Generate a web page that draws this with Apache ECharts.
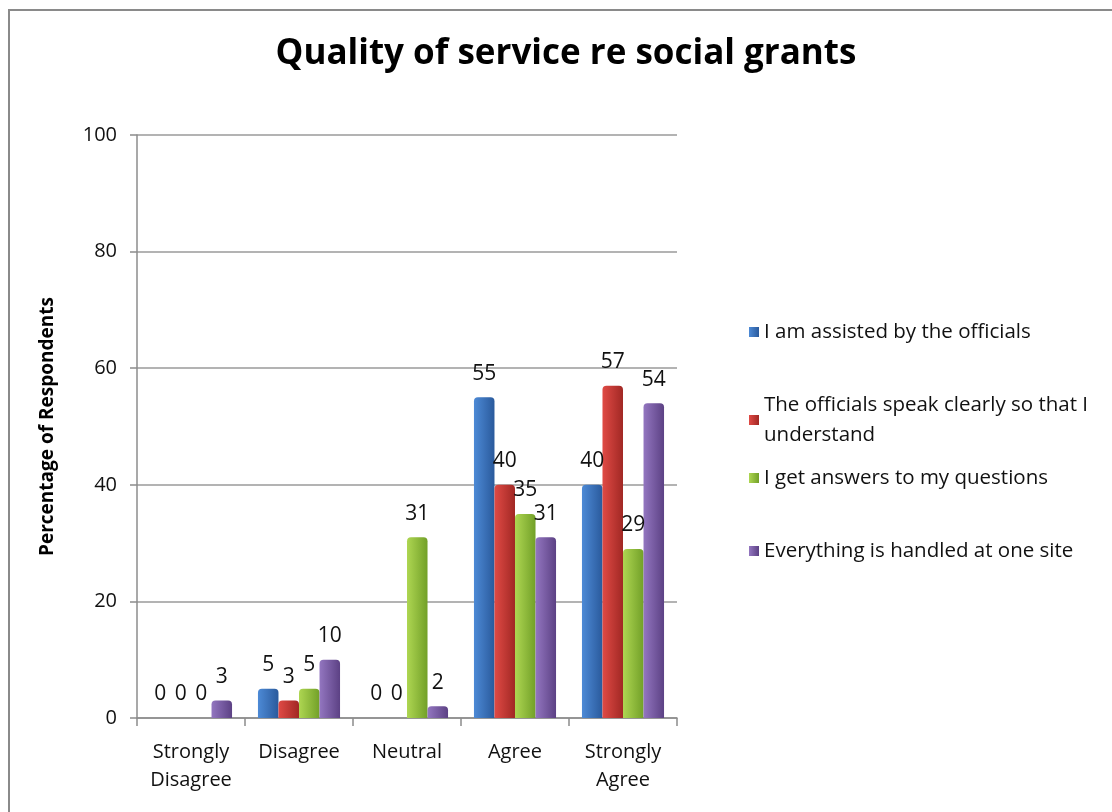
<!DOCTYPE html>
<html>
<head>
<meta charset="utf-8">
<script src="https://cdn.jsdelivr.net/npm/echarts@6/dist/echarts.min.js"></script>
<style>
html,body{margin:0;padding:0;background:#fff;}
#chart{width:1112px;height:812px;}
</style>
</head>
<body>
<div id="chart"></div>
<script>
const categories = ['Strongly\nDisagree', 'Disagree', 'Neutral', 'Agree', 'Strongly\nAgree'];
const seriesNames = [
  'I am assisted by the officials',
  'The officials speak clearly so that I\nunderstand',
  'I get answers to my questions',
  'Everything is handled at one site'
];
const assisted = [0, 5, 0, 55, 40];
const speakClearly = [0, 3, 0, 40, 57];
const answers = [0, 5, 31, 35, 29];
const oneSite = [3, 10, 2, 31, 54];
const yMin = 0, yMax = 100, yInterval = 20;

const seriesData = [assisted, speakClearly, answers, oneSite];
const colors = [
  ['#4d8ad6', '#2a5a9c'],
  ['#e04a45', '#a12824'],
  ['#aed652', '#72a028'],
  ['#9376c0', '#5c4184']
];
const legendColors = ['#3a6fba', '#c23a36', '#8dba3e', '#7558a0'];
const legendTops = [312, 385, 458, 531];

const chart = echarts.init(document.getElementById('chart'), null, {renderer: 'canvas'});
const font = '"Open Sans", "Noto Sans", sans-serif';

const option = {
  backgroundColor: '#ffffff',
  animation: false,
  title: {
    text: 'Quality of service re social grants',
    left: 561, textAlign: 'center', top: 32,
    textStyle: {fontFamily: font, fontWeight: 'bold', fontSize: 35, color: '#000'}
  },
  graphic: [{
    type: 'rect', shape: {x: 9, y: 10, width: 1200, height: 900},
    style: {fill: 'none', stroke: '#8a8a8a', lineWidth: 2}, silent: true
  }],
  legend: seriesNames.map((n, i) => ({
    data: [n], left: 744, top: legendTops[i], orient: 'vertical',
    icon: 'rect', itemWidth: 10, itemHeight: 10, itemGap: 0,
    textStyle: {fontFamily: font, fontSize: 20.5, color: '#111', lineHeight: 30},
    selectedMode: false
  })),
  grid: {left: 137, right: 435, top: 135, bottom: 94},
  xAxis: {
    type: 'category', data: categories,
    axisLine: {lineStyle: {color: '#8c8c8c', width: 1.5}},
    axisTick: {show: true, length: 8, lineStyle: {color: '#8c8c8c', width: 1.5}},
    axisLabel: {interval: 0, hideOverlap: false, fontFamily: font, fontSize: 20, color: '#111', margin: 20, lineHeight: 28}
  },
  yAxis: {
    type: 'value', min: yMin, max: yMax, interval: yInterval,
    name: 'Percentage of Respondents', nameLocation: 'middle', nameGap: 80, nameRotate: 90,
    nameTextStyle: {fontFamily: font, fontSize: 19, fontWeight: 'bold', color: '#000'},
    axisLine: {show: true, lineStyle: {color: '#8c8c8c', width: 1.5}},
    axisTick: {show: true, length: 7, lineStyle: {color: '#8c8c8c', width: 1.5}},
    axisLabel: {fontFamily: font, fontSize: 20, color: '#111', margin: 20},
    splitLine: {lineStyle: {color: '#9a9a9a', width: 1.5}}
  },
  series: seriesData.map((d, i) => ({
    name: seriesNames[i], type: 'bar', data: d,
    barGap: '0%', barCategoryGap: '24%',
    color: legendColors[i],
    itemStyle: {
      borderRadius: [4, 4, 0, 0],
      color: new echarts.graphic.LinearGradient(0, 0, 1, 0, [
        {offset: 0, color: colors[i][0]},
        {offset: 1, color: colors[i][1]}
      ])
    },
    label: {
      show: true, position: 'top', distance: 13,
      fontFamily: font, fontSize: 21, color: '#111'
    }
  }))
};
chart.setOption(option);
</script>
</body>
</html>
